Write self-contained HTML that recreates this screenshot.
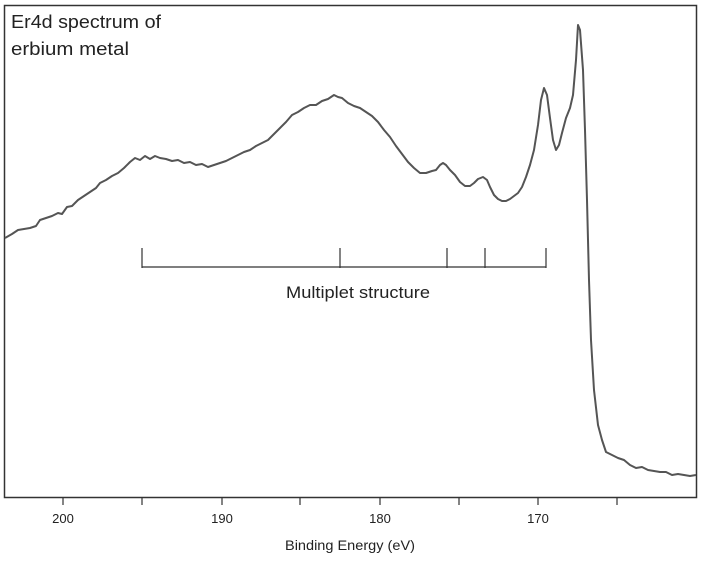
<!DOCTYPE html>
<html><head><style>
body{margin:0;background:#fff;}
svg{display:block;}
text{font-family:"Liberation Sans",sans-serif;fill:#222;}
</style></head><body>
<svg width="702" height="561" viewBox="0 0 702 561">
<rect x="4.5" y="5.5" width="692" height="492" fill="none" stroke="#333" stroke-width="1.5"/>
<g stroke="#333" stroke-width="1.2">
<line x1="63" y1="497" x2="63" y2="505"/><line x1="142" y1="497" x2="142" y2="505"/>
<line x1="222" y1="497" x2="222" y2="505"/><line x1="300" y1="497" x2="300" y2="505"/>
<line x1="380" y1="497" x2="380" y2="505"/><line x1="459" y1="497" x2="459" y2="505"/>
<line x1="538" y1="497" x2="538" y2="505"/><line x1="617" y1="497" x2="617" y2="505"/>
</g>
<g font-size="13" text-anchor="middle">
<text x="63" y="523">200</text><text x="222" y="523">190</text>
<text x="380" y="523">180</text><text x="538" y="523">170</text>
<text x="350" y="550" font-size="14" textLength="130" lengthAdjust="spacingAndGlyphs">Binding Energy (eV)</text>
</g>
<text x="11" y="28" font-size="18" textLength="150" lengthAdjust="spacingAndGlyphs">Er4d spectrum of</text>
<text x="11" y="55" font-size="18" textLength="118" lengthAdjust="spacingAndGlyphs">erbium metal</text>
<g stroke="#333" stroke-width="1.2" fill="none">
<line x1="142" y1="267" x2="546" y2="267"/>
<line x1="142" y1="248" x2="142" y2="268"/><line x1="340" y1="248" x2="340" y2="268"/>
<line x1="447" y1="248" x2="447" y2="268"/><line x1="485" y1="248" x2="485" y2="268"/>
<line x1="546" y1="248" x2="546" y2="268"/>
</g>
<text x="358" y="298" font-size="17" text-anchor="middle" textLength="144" lengthAdjust="spacingAndGlyphs">Multiplet structure</text>
<polyline fill="none" stroke="#555" stroke-width="2" stroke-linejoin="round" points="
5,238 12,234 18,230 24,229 30,228 36,226 40,220 46,218 52,216 58,213 62,214 67,207 72,206 78,200 84,196 90,192 96,188 100,183 106,180 112,176 118,173 124,168 130,162 135,158 140,160 145,156 150,159 155,156 160,158 166,159 172,161 178,160 184,163 190,162 196,165 202,164 208,167 214,165 220,163 226,161 232,158 238,155 244,152 250,150 256,146 262,143 268,140 274,134 280,128 286,122 292,115 298,112 304,108 310,105 316,105 322,101 328,99 334,95 338,97 342,98 348,103 354,106 360,108 366,112 372,116 378,122 384,130 390,137 396,146 402,154 408,162 414,168 420,173 426,173 432,171 436,170 440,165 443,163 446,165 450,170 455,175 460,182 465,186 470,186 474,183 478,179 483,177 487,180 490,187 494,195 498,199 502,201 506,201 510,199 514,196 518,193 522,187 526,177 530,165 534,150 538,125 541,100 544,88 547,95 550,118 553,140 556,150 559,145 562,133 566,118 570,108 573,95 576,60 578,25 580,30 583,70 585,130 587,200 589,280 591,340 594,390 598,425 602,440 606,452 612,455 618,458 624,460 630,465 636,468 642,467 648,470 654,471 660,472 666,472 672,475 678,474 684,475 690,476 696,475"/>
</svg>
</body></html>
